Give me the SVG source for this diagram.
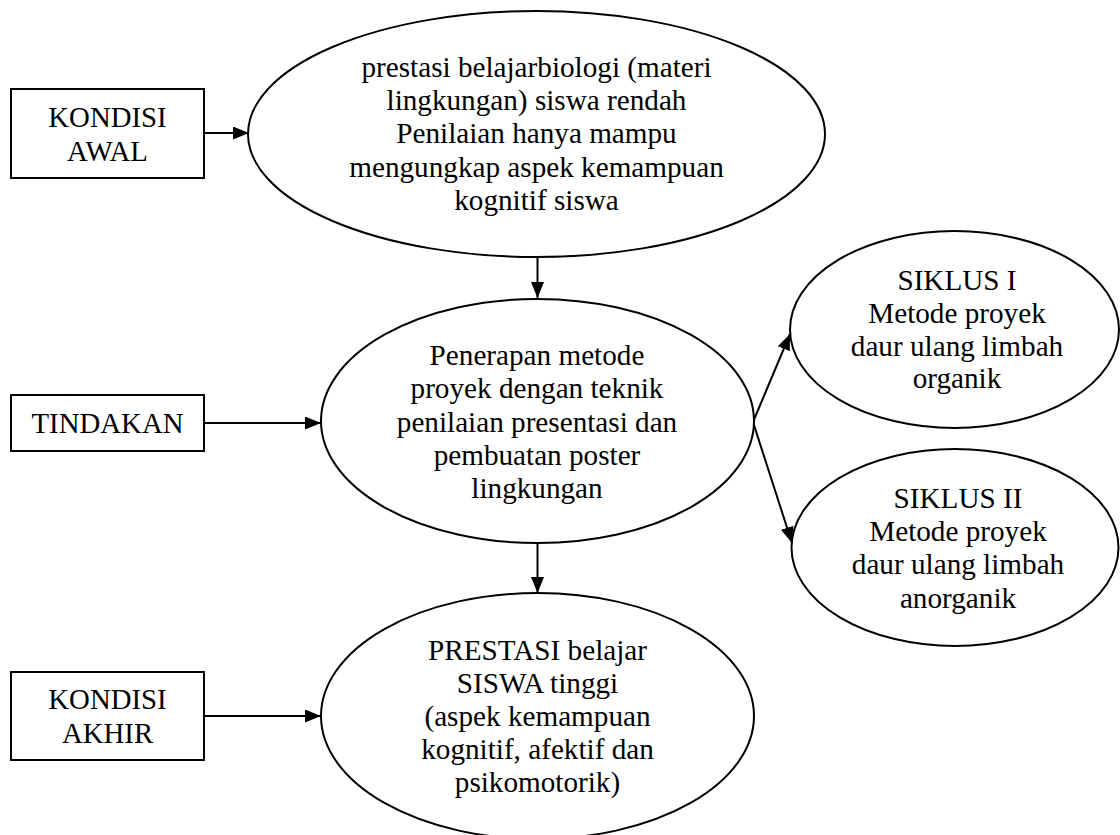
<svg xmlns="http://www.w3.org/2000/svg" width="1120" height="835" viewBox="0 0 1120 835">
<defs>
<style>
.shape{fill:#fff;stroke:#000;stroke-width:2}
.t{font-family:"Liberation Serif","Times New Roman",serif;fill:#000;text-anchor:middle;font-size:29.2px}
.bx{font-size:28.8px}
.c{stroke:#000;stroke-width:2;fill:none;marker-end:url(#ah)}
</style>
<marker id="ah" markerUnits="userSpaceOnUse" markerWidth="17" markerHeight="14" refX="16" refY="6.5" orient="auto">
<path d="M0,0 L16,6.5 L0,13 z" fill="#000"/>
</marker>
</defs>
<rect width="1120" height="835" fill="#fff"/>
<g id="connectors">
<line class="c" x1="204" y1="133" x2="249" y2="133"/>
<line class="c" x1="537.5" y1="257" x2="537.5" y2="298"/>
<line class="c" x1="204" y1="423" x2="321" y2="423"/>
<line class="c" x1="753" y1="422" x2="790" y2="334"/>
<line class="c" x1="753" y1="422" x2="792" y2="543"/>
<line class="c" x1="537.5" y1="543" x2="537.5" y2="593"/>
<line class="c" x1="204" y1="716" x2="321" y2="716"/>
</g>
<g id="kondisi-awal">
<rect class="shape" x="11" y="89" width="193" height="89"/>
<text class="t bx" x="107.5" y="127">KONDISI</text>
<text class="t bx" x="107.5" y="161">AWAL</text>
</g>
<g id="kondisi-awal-desc">
<ellipse class="shape" cx="536.5" cy="134" rx="288.5" ry="123"/>
<text class="t" x="536.5" y="77">prestasi belajarbiologi (materi</text>
<text class="t" x="536.5" y="110">lingkungan) siswa rendah</text>
<text class="t" x="536.5" y="143">Penilaian hanya mampu</text>
<text class="t" x="536.5" y="177">mengungkap aspek kemampuan</text>
<text class="t" x="536.5" y="210">kognitif siswa</text>
</g>
<g id="tindakan">
<rect class="shape" x="11" y="395" width="193" height="56"/>
<text class="t bx" x="107.5" y="433">TINDAKAN</text>
</g>
<g id="tindakan-desc">
<ellipse class="shape" cx="537.5" cy="421" rx="216.5" ry="122"/>
<text class="t" x="537" y="365">Penerapan metode</text>
<text class="t" x="537" y="398">proyek dengan teknik</text>
<text class="t" x="537" y="432">penilaian presentasi dan</text>
<text class="t" x="537" y="465">pembuatan poster</text>
<text class="t" x="537" y="498">lingkungan</text>
</g>
<g id="siklus-1">
<ellipse class="shape" cx="954.5" cy="329.5" rx="164.5" ry="98.5"/>
<text class="t" x="957" y="290">SIKLUS I</text>
<text class="t" x="957" y="323">Metode proyek</text>
<text class="t" x="957" y="356">daur ulang limbah</text>
<text class="t" x="957" y="388">organik</text>
</g>
<g id="siklus-2">
<ellipse class="shape" cx="955" cy="547.5" rx="163.5" ry="98.5"/>
<text class="t" x="958" y="508">SIKLUS II</text>
<text class="t" x="958" y="541">Metode proyek</text>
<text class="t" x="958" y="574">daur ulang limbah</text>
<text class="t" x="958" y="608">anorganik</text>
</g>
<g id="kondisi-akhir">
<rect class="shape" x="11" y="672" width="193" height="88"/>
<text class="t bx" x="107.5" y="709">KONDISI</text>
<text class="t bx" x="107.5" y="743">AKHIR</text>
</g>
<g id="kondisi-akhir-desc">
<ellipse class="shape" cx="537.5" cy="716" rx="216.5" ry="123"/>
<text class="t" x="537.5" y="660">PRESTASI belajar</text>
<text class="t" x="537.5" y="693">SISWA tinggi</text>
<text class="t" x="537.5" y="726">(aspek kemampuan</text>
<text class="t" x="537.5" y="759">kognitif, afektif dan</text>
<text class="t" x="537.5" y="792">psikomotorik)</text>
</g>
</svg>
